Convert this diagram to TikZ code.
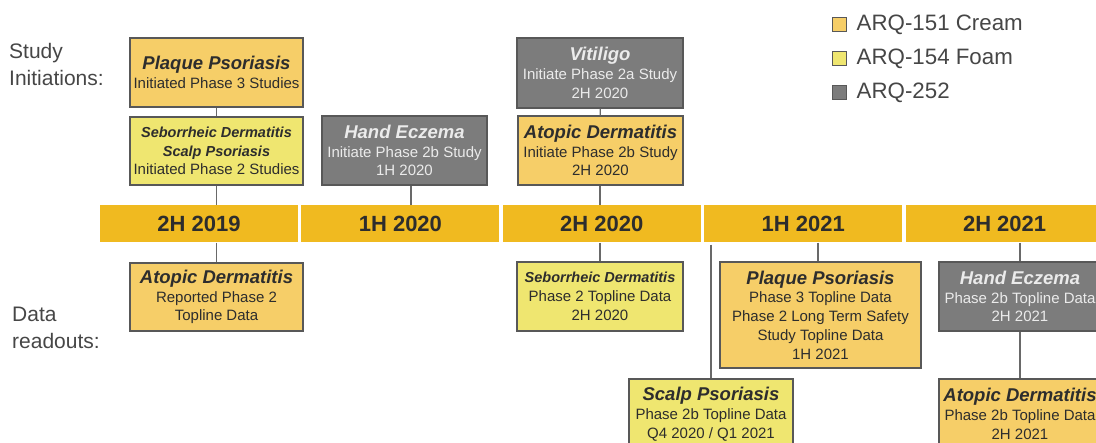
\documentclass[tikz,border=0pt]{standalone}
\usepackage{fontspec}
\setmainfont{Liberation Sans}
\usepackage{xcolor}
\usepackage{tikz}
\usetikzlibrary{positioning}

\definecolor{barcol}{RGB}{240,186,32}
\definecolor{creamcol}{RGB}{246,206,104}
\definecolor{foamcol}{RGB}{239,230,112}
\definecolor{greycol}{RGB}{124,124,124}
\definecolor{edgecol}{RGB}{88,88,88}
\definecolor{txtcol}{RGB}{45,45,45}
\definecolor{lblcol}{RGB}{70,70,70}

% title lines of an event box
\newcommand{\ttl}[1]{{\fontsize{18.5}{19}\selectfont\bfseries\itshape #1}}
\newcommand{\ttlsm}[1]{{\fontsize{14.5}{18.5}\selectfont\bfseries\itshape #1}}

\begin{document}
\begin{tikzpicture}[x=1pt, y=-1pt,
		seg/.style={fill=barcol, minimum width=198pt, minimum height=37pt, inner sep=0pt, text=txtcol, font=\fontsize{22}{24}\selectfont\bfseries},
		evt/.style={draw=edgecol, line width=1.2pt, align=center, inner sep=0pt, text=txtcol, font=\fontsize{15}{18.8}\selectfont},
		cream/.style={evt, fill=creamcol},
		foam/.style={evt, fill=foamcol},
		grey/.style={evt, fill=greycol, text=white!92!black},
		link/.style={draw=edgecol!90!white, line width=1.1pt},
		legsq/.style={draw=edgecol, line width=1pt, minimum size=14pt, inner sep=0pt},
		legtxt/.style={text=lblcol, inner sep=0pt, font=\fontsize{22.3}{24}\selectfont},
		lbl/.style={text=lblcol, align=left, inner sep=0pt, font=\fontsize{21}{27}\selectfont}]
	\useasboundingbox (0,0) rectangle (1096,443);

	% timeline
	\node[seg] (h2y19) at (199,224) {2H 2019};
	\node[seg, right=3pt of h2y19] (h1y20) {1H 2020};
	\node[seg, right=3pt of h1y20] (h2y20) {2H 2020};
	\node[seg, right=3pt of h2y20] (h1y21) {1H 2021};
	\node[seg, right=3pt of h1y21] (h2y21) {2H 2021};

	% row labels
	\node[lbl, anchor=west] (initlbl) at (9,64) {Study\\Initiations:};
	\node[lbl, anchor=west] (readlbl) at (12,328) {Data\\readouts:};

	% study initiations
	\node[cream, minimum width=173pt, minimum height=69pt] (plqI) at (216.5,72.5) {\ttl{Plaque Psoriasis}\\Initiated Phase 3 Studies};
	\node[foam, minimum width=173pt, minimum height=68pt] (sebI) at (216.5,151) {\ttlsm{Seborrheic Dermatitis}\\\ttlsm{Scalp Psoriasis}\\Initiated Phase 2 Studies};
	\node[grey, minimum width=165pt, minimum height=69pt] (hndI) at (404.5,150.5) {\ttl{Hand Eczema}\\Initiate Phase 2b Study\\1H 2020};
	\node[grey, minimum width=166pt, minimum height=70pt] (vitI) at (600,73) {\ttl{Vitiligo}\\Initiate Phase 2a Study\\2H 2020};
	\node[cream, minimum width=165pt, minimum height=69pt] (atoI) at (600.5,150.5) {\ttl{Atopic Dermatitis}\\Initiate Phase 2b Study\\2H 2020};

	% data readouts
	\node[cream, minimum width=173pt, minimum height=68pt] (atoD) at (216.5,297) {\ttl{Atopic Dermatitis}\\Reported Phase 2\\Topline Data};
	\node[foam, minimum width=166pt, minimum height=69pt] (sebD) at (600,296.5) {\ttlsm{Seborrheic Dermatitis}\\Phase 2 Topline Data\\2H 2020};
	\node[cream, minimum width=201pt, minimum height=106pt] (plqD) at (820.5,315) {\ttl{Plaque Psoriasis}\\Phase 3 Topline Data\\Phase 2 Long Term Safety\\Study Topline Data\\1H 2021};
	\node[foam, minimum width=164pt, minimum height=70pt] (sclD) at (711,414) {\ttl{Scalp Psoriasis}\\Phase 2b Topline Data\\Q4 2020 / Q1 2021};
	\node[grey, minimum width=162pt, minimum height=69pt] (hndD) at (1020,296.5) {\ttl{Hand Eczema}\\Phase 2b Topline Data\\2H 2021};
	\node[cream, minimum width=162pt, minimum height=70pt] (atoD2) at (1020,414) {\ttl{Atopic Dermatitis}\\Phase 2b Topline Data\\2H 2021};

	% connectors
	\draw[link] (plqI) -- (sebI);
	\draw[link] (sebI) -- (sebI.south |- h2y19.north);
	\draw[link] ([xshift=6.5pt]hndI.south) -- ([xshift=6.5pt]hndI.south |- h1y20.north);
	\draw[link] (vitI) -- (atoI);
	\draw[link] (atoI.south -| vitI) -- (vitI |- h2y20.north);
	\draw[link] (h2y19.south -| atoD) -- (atoD);
	\draw[link] (h2y20.south -| sebD) -- (sebD);
	\draw[link] ([xshift=-2.5pt]plqD.north |- h1y21.south) -- ([xshift=-2.5pt]plqD.north);
	\draw[link] ([yshift=-2pt]sclD.north |- h1y21.south) -- (sclD);
	\draw[link] (h2y21.south -| hndD) -- (hndD);
	\draw[link] (hndD) -- (atoD2);

	% legend
	\node[legsq, fill=creamcol] (lgcream) at (839,25) {};
	\node[legtxt, right=10pt of lgcream] {ARQ-151 Cream};
	\node[legsq, fill=foamcol, below=19pt of lgcream] (lgfoam) {};
	\node[legtxt, right=10pt of lgfoam] {ARQ-154 Foam};
	\node[legsq, fill=greycol, below=19pt of lgfoam] (lgarq) {};
	\node[legtxt, right=10pt of lgarq] {ARQ-252};
\end{tikzpicture}
\end{document}
